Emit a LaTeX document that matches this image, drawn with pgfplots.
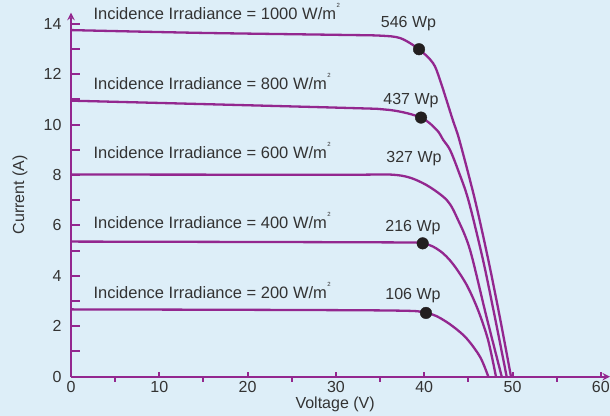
\documentclass[border=0pt]{standalone}
\usepackage{pgfplots}
\pgfplotsset{compat=1.18}
\usepackage{fontspec}
\setmainfont{Liberation Sans}

\definecolor{bg}{HTML}{DDEEF8}
\definecolor{pv}{HTML}{93278F}
\definecolor{txt}{HTML}{333333}
\definecolor{mpp}{HTML}{231F20}

% W/m^2 with the small raised 2 of the original
\newcommand{\wm}{W/m\hspace{0.5bp}\raisebox{0.72em}{\fontsize{6bp}{6bp}\selectfont 2}}

\pgfplotsset{
  ivframe/.style={
    scale only axis,
    width=539bp, height=364bp,
    xmin=0, xmax=61.04,
    ymin=0, ymax=14.44,
    axis line style={-, pv, line width=2.3bp},
    tick style={pv, line width=2bp},
    /pgf/number format/assume math mode=true,
    every tick label/.append style={txt, font=\fontsize{16bp}{19bp}\selectfont},
  },
}

\begin{document}
\begin{tikzpicture}[font=\fontsize{16bp}{19bp}\selectfont]
\fill[bg] (-71bp,-39.3bp) rectangle (539bp,376.7bp);
% x axis with its short ticks
\begin{axis}[
  ivframe,
  axis x line=bottom, axis y line=none,
  ytick=\empty,
  xtick={0,10,...,60},
  extra x ticks={5,15,25,35,45,55},
  extra x tick labels={},
  extra x tick style={tick align=outside},
  tick align=inside,
  major tick length=5bp,
  xticklabel style={yshift=-1bp},
  xlabel={Voltage (V)},
  every axis label/.append style={txt, font=\fontsize{16bp}{19bp}\selectfont},
  xlabel style={at={(axis description cs:0.49,-0.075)}, anchor=center},
]
\end{axis}
% y axis and the curves
\begin{axis}[
  ivframe,
  axis x line=none, axis y line=left,
  clip=false,
  xtick=\empty,
  ytick={0,2,...,14},
  minor y tick num=1,
  tick align=inside,
  major tick length=9bp,
  minor tick length=9bp,
  yticklabel style={xshift=-6bp},
  ylabel={Current (A)},
  every axis label/.append style={txt, font=\fontsize{16bp}{19bp}\selectfont},
  ylabel style={at={(axis description cs:-0.0947,0.5)}, anchor=center},
]
% 1000 W/m2
\addplot[pv, line width=2.3bp, smooth, tension=0.5] coordinates {
  (0,13.75) (14.6,13.64) (30.5,13.56) (35.0,13.53) (37.3,13.43)
  (39.41,12.99) (41.0,12.44) (41.79,11.77) (43.23,10.19) (43.98,9.39)
  (45.75,7.01) (47.26,4.63) (48.58,2.33) (49.83,0)
};
% 800 W/m2
\addplot[pv, line width=2.3bp, smooth, tension=0.5] coordinates {
  (0,10.95) (30.46,10.67) (36.13,10.58) (39.64,10.28) (41.42,9.79)
  (42.16,9.39) (42.92,9.0) (43.83,8.2) (45.0,7.01) (46.66,4.63)
  (48.02,2.33) (49.34,0)
};
% 600 W/m2
\addplot[pv, line width=2.3bp, smooth, tension=0.5] coordinates {
  (0,8.02) (30.0,8.01) (36.89,8.0) (39.9,7.67) (42.55,7.01)
  (43.83,6.22) (45.19,5.03) (47.0,2.45) (48.78,0)
};
% 400 W/m2
\addplot[pv, line width=2.3bp, smooth, tension=0.5] coordinates {
  (0,5.36) (34.99,5.33) (39.83,5.29) (41.79,4.99) (43.26,4.47)
  (44.81,3.64) (46.09,2.65) (47.23,1.46) (48.13,0)
};
% 200 W/m2
\addplot[pv, line width=2.3bp, smooth, tension=0.5] coordinates {
  (0,2.67) (34.99,2.63) (40.2,2.53) (42.36,2.21) (44.61,1.59)
  (46.32,0.79) (47.26,0)
};
% maximum power points
\addplot[only marks, mark=*, mark size=5.8bp, mpp, mark options={draw=mpp, fill=mpp}] coordinates {
  (39.41,12.99) (39.64,10.28) (39.83,5.29) (40.2,2.53)
};

\begin{scope}[font=\fontsize{16.5bp}{19bp}\selectfont]
\node[anchor=base west, inner sep=0pt, txt] at (axis cs:2.53,14.19) {Incidence Irradiance = 1000 \wm};
\node[anchor=base west, inner sep=0pt, txt] at (axis cs:2.53,11.41) {Incidence Irradiance = 800 \wm};
\node[anchor=base west, inner sep=0pt, txt] at (axis cs:2.53,8.66) {Incidence Irradiance = 600 \wm};
\node[anchor=base west, inner sep=0pt, txt] at (axis cs:2.53,5.89) {Incidence Irradiance = 400 \wm};
\node[anchor=base west, inner sep=0pt, txt] at (axis cs:2.53,3.11) {Incidence Irradiance = 200 \wm};
\end{scope}

\node[anchor=base, txt] at (axis cs:38.22,13.84) {546 Wp};
\node[anchor=base, txt] at (axis cs:38.5,10.78) {437 Wp};
\node[anchor=base, txt] at (axis cs:38.84,8.48) {327 Wp};
\node[anchor=base, txt] at (axis cs:38.73,5.75) {216 Wp};
\node[anchor=base, txt] at (axis cs:38.73,3.07) {106 Wp};
\end{axis}
\pgfresetboundingbox
\useasboundingbox (-71bp,-39.3bp) rectangle (539bp,376.7bp);
\end{tikzpicture}
\end{document}
